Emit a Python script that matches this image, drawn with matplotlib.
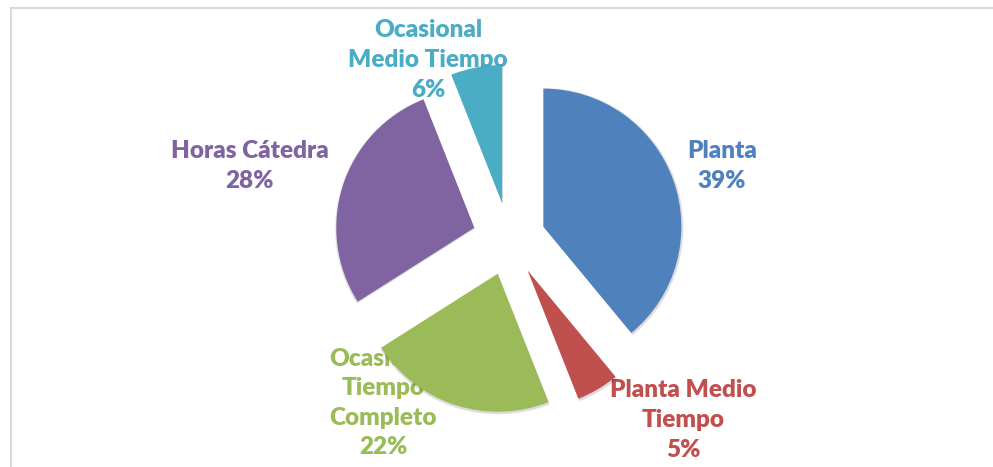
import matplotlib
matplotlib.use("Agg")
import matplotlib.pyplot as plt
from matplotlib.lines import Line2D

categories = ["Planta", "Planta Medio\nTiempo", "Ocasional\nTiempo\nCompleto", "Horas Cátedra", "Ocasional\nMedio Tiempo"]
values = [39, 5, 22, 28, 6]
colors = ["#4F81BD", "#C0504D", "#9BBB59", "#8064A2", "#4BACC6"]

W, H = 993, 467
fig = plt.figure(figsize=(W / 100, H / 100), dpi=100)
ax = fig.add_axes([0, 0, 1, 1])

cx, cy, r = 509, H - 239, 138
explode = [36.5] * len(values)  # absolute offset in pixels

# soft shadow behind slices
for k, a in [(4, 0.04), (3, 0.05), (2, 0.06)]:
    ax.pie(values, colors=["#000000"] * len(values), startangle=90, counterclock=False,
           radius=r + k * 0.5, center=(cx + 0.5, cy - 1), explode=explode,
           wedgeprops=dict(linewidth=0, alpha=a, zorder=1.5))

wedges, _ = ax.pie(values, colors=colors, startangle=90, counterclock=False,
                   radius=r, center=(cx, cy), explode=explode,
                   wedgeprops=dict(linewidth=0, zorder=2))
ax.set_xlim(0, W)
ax.set_ylim(0, H)
ax.set_aspect("equal")
ax.axis("off")

# label positions (pixel layout, screen coordinates of text centre)
label_pos = [(722, 166), (683, 420), (383, 403), (250, 166), (428, 60)]
total = sum(values)
for cat, v, col, (lx, ly) in zip(categories, values, colors, label_pos):
    txt = f"{cat}\n{round(100 * v / total)}%"
    ax.text(lx, H - ly, txt, ha="center", va="center", color=col,
            fontsize=17.5, fontweight="heavy", family=["Lato", "DejaVu Sans"],
            linespacing=1.42, zorder=1)

# chart frame (top and left edges visible)
fig.add_artist(Line2D([10.5 / W, 1], [1 - 7.5 / H, 1 - 7.5 / H], color="#D9D9D9", lw=1.5))
fig.add_artist(Line2D([10.5 / W, 10.5 / W], [0, 1 - 7.5 / H], color="#D9D9D9", lw=1.5))

fig.savefig("out.png", dpi=100, facecolor="white")
